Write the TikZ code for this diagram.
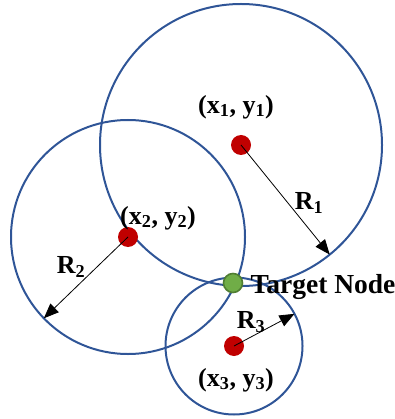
\documentclass[tikz,border=0pt]{standalone}
\usepackage{fontspec}
\setmainfont{Liberation Serif}
\usepackage{tikz}
\usetikzlibrary{arrows.meta, positioning}
\usepackage{xcolor}
\definecolor{ringblue}{RGB}{47,85,151}
\definecolor{anchorred}{RGB}{192,0,0}
\definecolor{targetgreen}{RGB}{112,173,71}
\definecolor{targetedge}{RGB}{80,126,50}

\tikzset{
  ring/.style={circle, draw=ringblue, line width=2pt, inner sep=0pt, outer sep=0pt, minimum size=#1},
  anchordot/.style={circle, fill=anchorred, inner sep=0pt, minimum size=20pt},
  lbl/.style={font=\fontsize{26}{29}\selectfont\bfseries, inner sep=1pt},
  radiusarrow/.style={-{Triangle[length=15pt,width=12pt]}, line width=0.8pt}
}

\begin{document}
\begin{tikzpicture}[x=1pt, y=-1pt]
  \useasboundingbox (0,0) rectangle (394,419);
  % range circles
  \node[ring=282pt] (ring1) at (241,145) {};
  \node[ring=234pt] (ring2) at (128,237) {};
  \node[ring=137pt] (ring3) at (234,346) {};
  % anchors and target
  \node[anchordot] (p1) at (241,145) {};
  \node[anchordot] (p2) at (128,237) {};
  \node[anchordot] (p3) at (234,346) {};
  \node[circle, fill=targetgreen, draw=targetedge, line width=1.6pt, inner sep=0pt, minimum size=19pt] (target) at (233,283) {};
  % radii
  \draw[radiusarrow] (p1.center) -- (ring1.-51);
  \draw[radiusarrow] (p2.center) -- (ring2.-136);
  \draw[radiusarrow] (p3.center) -- (ring3.28);
  % labels
  \node[lbl] (l1) at (236,107) {(x\textsubscript{1}, y\textsubscript{1})};
  \node[lbl] (l2) at (158,218) {(x\textsubscript{2}, y\textsubscript{2})};
  \node[lbl] (l3) at (236,380) {(x\textsubscript{3}, y\textsubscript{3})};
  \node[lbl] (r1) at (309,203) {R\textsubscript{1}};
  \node[lbl] (r2) at (71,267) {R\textsubscript{2}};
  \node[lbl] (r3) at (251,322) {R\textsubscript{3}};
  \node[lbl, font=\fontsize{27.5}{30}\selectfont\bfseries, right=6pt of target, anchor=west, yshift=-4pt] (tname) {Target Node};
\end{tikzpicture}
\end{document}
